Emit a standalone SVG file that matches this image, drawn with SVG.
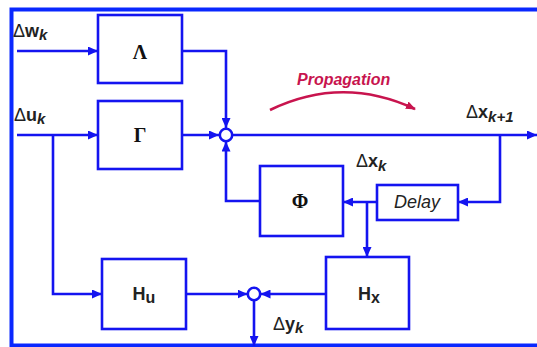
<svg xmlns="http://www.w3.org/2000/svg" width="537" height="347" viewBox="0 0 537 347">
<style>
.ln{fill:none;stroke:#1414f0;stroke-width:2.6}
.bx{fill:#fff;stroke:#1414f0;stroke-width:2.6}
.lab{font-family:"Liberation Sans",Arial,sans-serif;font-size:18px;fill:#222}
.b{font-weight:bold}
.i{font-style:italic}
.gr{font-family:"Liberation Serif","Times New Roman",serif;font-weight:bold;font-size:20px;fill:#111;text-anchor:middle}
.sub{font-size:15px;font-weight:bold;font-style:italic}
</style>
<defs>
<marker id="ah" markerUnits="userSpaceOnUse" markerWidth="10" markerHeight="9" refX="10" refY="4.5" orient="auto">
<path d="M0,0 L10,4.5 L0,9 z" fill="#1414f0"/>
</marker>
<marker id="ahr" markerUnits="userSpaceOnUse" markerWidth="10" markerHeight="8" refX="9" refY="4" orient="auto">
<path d="M0,0 L10,4 L0,8 z" fill="#c8144e"/>
</marker>
</defs>
<rect width="537" height="347" fill="#fff"/>
<path d="M537,9.5 L11.5,9.5 L11.5,345.5 L537,345.5" fill="none" stroke="#0a28ff" stroke-width="4"/>

<g id="connectors">
<path class="ln" d="M17,51 L98,51" marker-end="url(#ah)"/>
<path class="ln" d="M17,135 L98,135" marker-end="url(#ah)"/>
<path class="ln" d="M53,135 L53,294 L102,294" marker-end="url(#ah)"/>
<path class="ln" d="M182,51 L226,51 L226,128" marker-end="url(#ah)"/>
<path class="ln" d="M182,135 L219,135" marker-end="url(#ah)"/>
<path class="ln" d="M232.5,135 L537,135" marker-end="url(#ah)"/>
<path class="ln" d="M500,135 L500,202 L458,202" marker-end="url(#ah)"/>
<path class="ln" d="M377,202 L343,202" marker-end="url(#ah)"/>
<path class="ln" d="M367,202 L367,257" marker-end="url(#ah)"/>
<path class="ln" d="M260,201 L226,201 L226,141.5" marker-end="url(#ah)"/>
<path class="ln" d="M326,294 L260.5,294" marker-end="url(#ah)"/>
<path class="ln" d="M186,294 L247.5,294" marker-end="url(#ah)"/>
<path class="ln" d="M254,300.5 L254,346" marker-end="url(#ah)"/>
<path d="M270,110 Q342,75 415,109" fill="none" stroke="#c8144e" stroke-width="2.6" marker-end="url(#ahr)"/>
</g>

<g id="sum1"><circle cx="226" cy="135" r="6.2" fill="#fff" stroke="#1414f0" stroke-width="2.6"/></g>
<g id="sum2"><circle cx="254" cy="294" r="6.2" fill="#fff" stroke="#1414f0" stroke-width="2.6"/></g>

<g id="lambda"><rect class="bx" x="98" y="15" width="84" height="68"/><text class="gr" x="140" y="59">Λ</text></g>
<g id="gamma"><rect class="bx" x="98" y="101" width="84" height="68"/><text class="gr" x="140" y="142">Γ</text></g>
<g id="phi"><rect class="bx" x="260" y="166" width="83" height="70"/><text class="gr" x="300" y="208">Φ</text></g>
<g id="delay"><rect class="bx" x="377" y="185" width="81" height="35"/><text class="lab i" x="417" y="208" text-anchor="middle" font-size="15">Delay</text></g>
<g id="hu"><rect class="bx" x="102" y="259" width="84" height="70"/><text class="lab b" x="144" y="300" text-anchor="middle" font-size="20">H<tspan font-size="16" dy="3">u</tspan></text></g>
<g id="hx"><rect class="bx" x="326" y="257" width="83" height="72"/><text class="lab b" x="369" y="300" text-anchor="middle" font-size="20">H<tspan font-size="16" dy="3">x</tspan></text></g>

<g id="labels">
<text class="lab" x="13" y="37">Δ<tspan class="b">w</tspan><tspan class="sub" dy="3">k</tspan></text>
<text class="lab" x="14" y="121">Δ<tspan class="b">u</tspan><tspan class="sub" dy="3">k</tspan></text>
<text class="lab" x="466" y="118">Δ<tspan class="b">x</tspan><tspan class="sub" dy="4">k+1</tspan></text>
<text class="lab" x="356" y="167">Δ<tspan class="b">x</tspan><tspan class="sub" dy="4">k</tspan></text>
<text class="lab" x="273" y="330">Δ<tspan class="b">y</tspan><tspan class="sub" dy="3">k</tspan></text>
<text x="297" y="85" font-family="Liberation Sans,Arial,sans-serif" font-size="16" font-weight="bold" font-style="italic" fill="#c8144e">Propagation</text>
</g>
</svg>
